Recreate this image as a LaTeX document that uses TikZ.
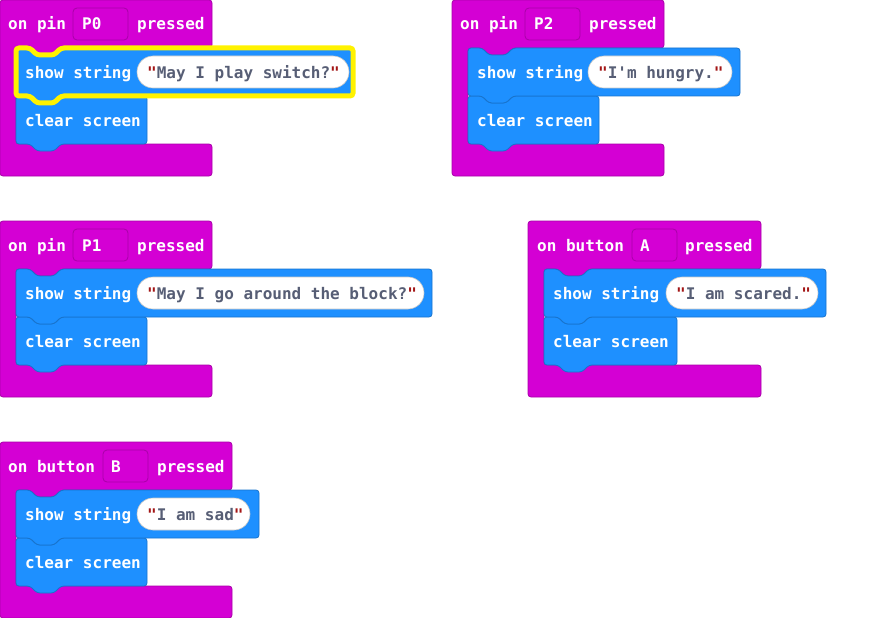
\documentclass[tikz,border=0pt]{standalone}
\usepackage{fontspec}
\newfontfamily\blockfont{DejaVu Sans Mono}[Ligatures=TeXOff]
\definecolor{evt}{HTML}{D400D4}
\definecolor{evtedge}{HTML}{A800A8}
\definecolor{basic}{HTML}{1E90FF}
\definecolor{basicedge}{HTML}{1873CC}
\definecolor{strtext}{HTML}{575E75}
\definecolor{quotecol}{HTML}{A31515}
\definecolor{hilitecol}{HTML}{FFF200}

\tikzset{
  hat/.style={fill=evt, draw=evtedge, line width=0.8pt, rounded corners=3pt},
  stmt/.style={fill=basic, draw=basicedge, line width=0.8pt, rounded corners=3pt},
  hilite/.style={draw=hilitecol, line width=5pt, rounded corners=3pt},
  field/.style={draw=evtedge, fill=evt, line width=0.8pt, rounded corners=4pt},
  oval/.style={fill=white, draw=black!22, line width=0.6pt, rounded corners=16pt},
  lbl/.style={anchor=base west, inner sep=0pt, text=white,
    font=\blockfont\bfseries\fontsize{16}{18}\selectfont},
  str/.style={lbl, text=strtext},
}

% quote mark of a string literal
\newcommand\qm{{\color{quotecol}"}}

% event (hat) block: C shape with a mouth for statements
% #1 left, #2 top, #3 width
\newcommand\hatblock[3]{%
  \draw[hat] (#1,#2) -- ({#1+#3},#2) -- ({#1+#3},{#2+48})
    -- ({#1+61},{#2+48}) -- ({#1+54},{#2+55}) -- ({#1+37},{#2+55}) -- ({#1+30},{#2+48})
    -- ({#1+16},{#2+48}) -- ({#1+16},{#2+144}) -- ({#1+#3},{#2+144})
    -- ({#1+#3},{#2+176}) -- (#1,{#2+176}) -- cycle;}

% statement block with top notch and bottom tab
% #1 style, #2 left, #3 top, #4 width
\newcommand\stmtblock[4]{%
  \draw[#1] (#2,#3) -- ({#2+14},#3) -- ({#2+21},{#3+7}) -- ({#2+38},{#3+7}) -- ({#2+45},#3)
    -- ({#2+#4},#3) -- ({#2+#4},{#3+48})
    -- ({#2+45},{#3+48}) -- ({#2+38},{#3+55}) -- ({#2+21},{#3+55}) -- ({#2+14},{#3+48})
    -- (#2,{#3+48}) -- cycle;}

\begin{document}
\begin{tikzpicture}[x=1pt, y=-1pt]
\useasboundingbox (0,0) rectangle (879,618);

% ---- on pin P0 pressed
\hatblock{0}{0}{212}
\stmtblock{stmt}{16}{96}{131}
\stmtblock{stmt}{16}{48}{337}
\stmtblock{hilite}{16}{48}{337}
\draw[field] (73,8) rectangle (128,40);
\draw[oval] (137,56) rectangle (349,88);
\node[lbl] (p0on) at (8,30) {on pin};
\node[lbl] (p0pin) at (82,30) {P0};
\node[lbl] (p0pr) at (137,30) {pressed};
\node[lbl] (p0show) at (25,78) {show string};
\node[str] (p0str) at (147,78) {\qm May I play switch?\qm};
\node[lbl] (p0clr) at (25,126) {clear screen};

% ---- on pin P2 pressed
\hatblock{452}{0}{212}
\stmtblock{stmt}{468}{96}{131}
\stmtblock{stmt}{468}{48}{272}
\draw[field] (525,8) rectangle (580,40);
\draw[oval] (588,56) rectangle (732,88);
\node[lbl] (p2on) at (460,30) {on pin};
\node[lbl] (p2pin) at (534,30) {P2};
\node[lbl] (p2pr) at (589,30) {pressed};
\node[lbl] (p2show) at (477,78) {show string};
\node[str] (p2str) at (598,78) {\qm I'm hungry.\qm};
\node[lbl] (p2clr) at (477,126) {clear screen};

% ---- on pin P1 pressed
\hatblock{0}{221}{212}
\stmtblock{stmt}{16}{317}{131}
\stmtblock{stmt}{16}{269}{416}
\draw[field] (73,229) rectangle (128,261);
\draw[oval] (137,277) rectangle (424,309);
\node[lbl] (p1on) at (8,251) {on pin};
\node[lbl] (p1pin) at (82,251) {P1};
\node[lbl] (p1pr) at (137,251) {pressed};
\node[lbl] (p1show) at (25,299) {show string};
\node[str] (p1str) at (147,299) {\qm May I go around the block?\qm};
\node[lbl] (p1clr) at (25,347) {clear screen};

% ---- on button A pressed
\hatblock{528}{221}{233}
\stmtblock{stmt}{544}{317}{133}
\stmtblock{stmt}{544}{269}{282}
\draw[field] (632,229) rectangle (677,261);
\draw[oval] (666,277) rectangle (818,309);
\node[lbl] (baon) at (537,251) {on button};
\node[lbl] (babtn) at (640,251) {A};
\node[lbl] (bapr) at (685,251) {pressed};
\node[lbl] (bashow) at (553,299) {show string};
\node[str] (bastr) at (676,299) {\qm I am scared.\qm};
\node[lbl] (baclr) at (553,347) {clear screen};

% ---- on button B pressed
\hatblock{0}{442}{232}
\stmtblock{stmt}{16}{538}{131}
\stmtblock{stmt}{16}{490}{243}
\draw[field] (103,450) rectangle (148,482);
\draw[oval] (137,498) rectangle (250,530);
\node[lbl] (bbon) at (8,472) {on button};
\node[lbl] (bbbtn) at (111,472) {B};
\node[lbl] (bbpr) at (157,472) {pressed};
\node[lbl] (bbshow) at (25,520) {show string};
\node[str] (bbstr) at (147,520) {\qm I am sad\qm};
\node[lbl] (bbclr) at (25,568) {clear screen};
\end{tikzpicture}
\end{document}
